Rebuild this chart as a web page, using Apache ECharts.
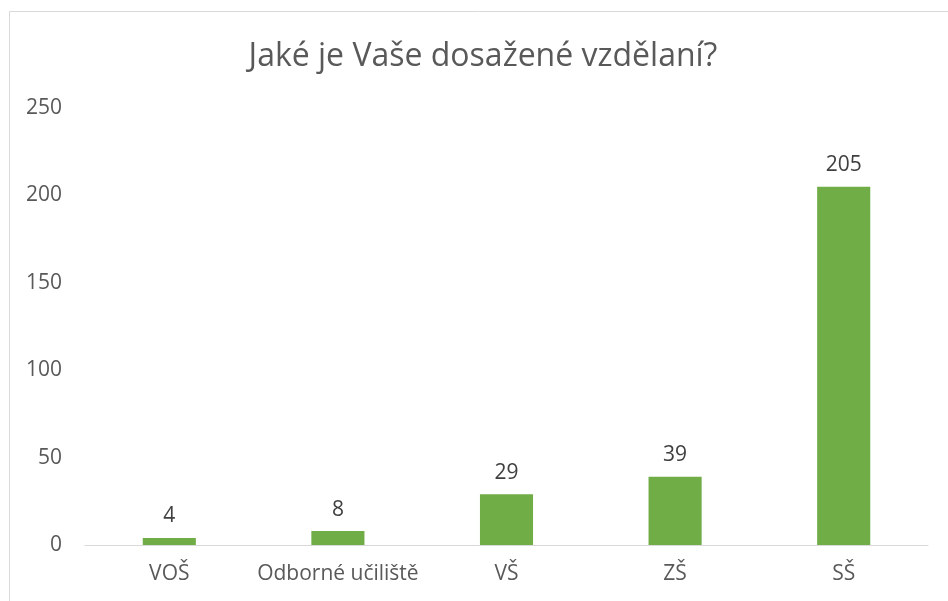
<!DOCTYPE html>
<html>
<head>
<meta charset="utf-8">
<script src="https://cdn.jsdelivr.net/npm/echarts@6/dist/echarts.min.js"></script>
<style>
html,body{margin:0;padding:0;background:#fff;}
#chart{width:948px;height:601px;}
</style>
</head>
<body>
<div id="chart"></div>
<script>
var titleText = 'Jaké je Vaše dosažené vzdělaní?';
var categories = ['VOŠ', 'Odborné učiliště', 'VŠ', 'ZŠ', 'SŠ'];
var values = [4, 8, 29, 39, 205];

var chart = echarts.init(document.getElementById('chart'));
chart.setOption({
  backgroundColor: '#fff',
  animation: false,
  title: {
    text: titleText,
    left: 478,
    textAlign: 'center',
    top: 36,
    textStyle: { fontFamily: 'Open Sans', fontSize: 32, fontWeight: 'normal', color: '#595959' }
  },
  graphic: [{
    type: 'rect',
    shape: { x: 9.5, y: 11.5, width: 1000, height: 700 },
    style: { fill: 'none', stroke: '#d9d9d9', lineWidth: 1 },
    silent: true
  }],
  grid: { left: 85, right: 20, top: 108, bottom: 56, containLabel: false },
  xAxis: {
    type: 'category',
    data: categories,
    axisLine: { lineStyle: { color: '#d9d9d9', width: 1 } },
    axisTick: { show: false },
    axisLabel: { interval: 0, fontFamily: 'Open Sans', fontSize: 21, color: '#595959', margin: 19 }
  },
  yAxis: {
    type: 'value',
    min: 0, max: 250, interval: 50,
    axisLine: { show: false },
    axisTick: { show: false },
    splitLine: { show: false },
    axisLabel: { fontFamily: 'Open Sans', fontSize: 21, color: '#595959', margin: 23 }
  },
  series: [{
    type: 'bar',
    data: values,
    barWidth: '31.5%',
    itemStyle: { color: '#70AD47' },
    label: { show: true, position: 'top', distance: 11, fontFamily: 'Open Sans', fontSize: 21, color: '#404040' }
  }]
});
</script>
</body>
</html>
